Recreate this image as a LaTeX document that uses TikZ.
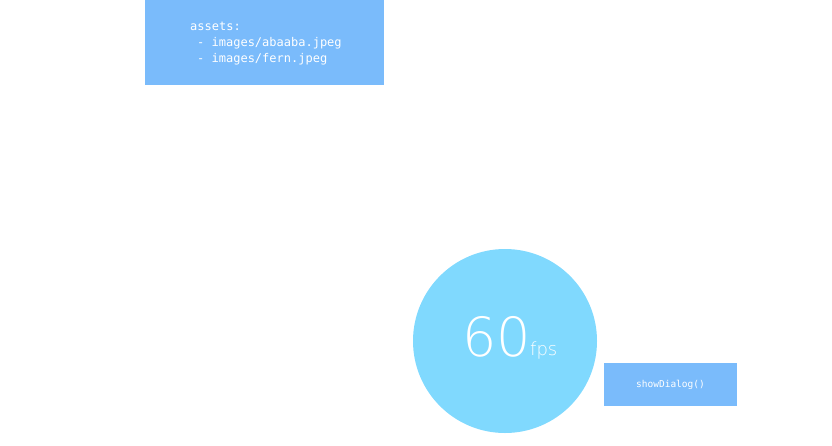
\documentclass[tikz,border=0pt]{standalone}
\usepackage{fontspec}
\setmonofont{DejaVu Sans Mono}
\newfontfamily\thinfont{DejaVu Sans ExtraLight}
\definecolor{boxblue}{HTML}{7ABBFB}
\definecolor{circblue}{HTML}{80D9FE}
\begin{document}
\begin{tikzpicture}[x=1pt,y=-1pt,
  panel/.style={fill=boxblue,draw=none,inner sep=0pt},
  txt/.style={text=white,font=\ttfamily\fontsize{12}{14}\selectfont,inner sep=0pt,anchor=base west}]
\useasboundingbox (0,0) rectangle (832,445);
\fill[boxblue] (145,0) rectangle (384,85);
\node[txt] (l1) at (190,30) {assets:};
\node[txt] (l2) at (197,46) {- images/abaaba.jpeg};
\node[txt] (l3) at (197,62) {- images/fern.jpeg};
\node[circle,fill=circblue,minimum size=184pt,inner sep=0pt] (fps) at (505,341) {};
\node[txt,font=\thinfont\fontsize{54}{54}\selectfont] (sixty) at (462,356) {60};
\node[txt,font=\thinfont\fontsize{18}{18}\selectfont] (unit) at (530,355) {fps};
\node[panel,minimum width=133pt,minimum height=43pt] (dialog) at (670.5,384.5) {};
\node[text=white,font=\ttfamily\fontsize{9.5}{10}\selectfont,inner sep=0pt] (dlgtxt) at (dialog) {showDialog()};
\end{tikzpicture}
\end{document}
